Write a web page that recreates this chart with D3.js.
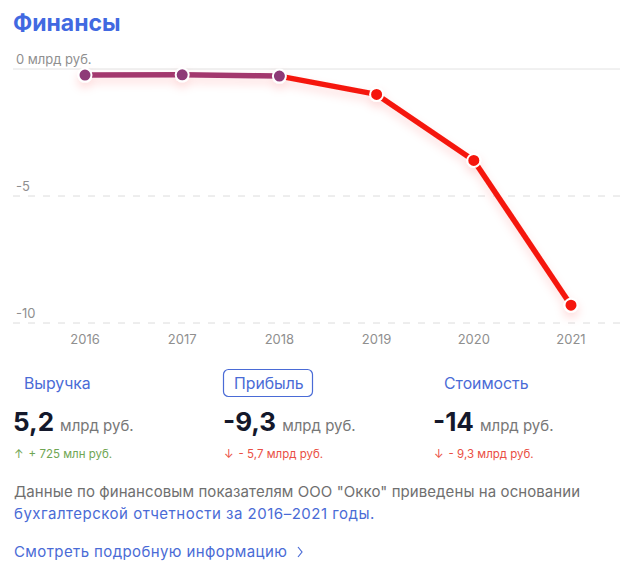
<!DOCTYPE html>
<html><head><meta charset="utf-8">
<script src="https://cdn.jsdelivr.net/npm/d3@7/dist/d3.min.js"></script>
<style>html,body{margin:0;padding:0;background:#fff}svg{display:block;font-family:Inter,"Noto Sans",sans-serif}</style>
</head><body><svg id="c" width="620" height="571"></svg>
<script>
const years=["2016","2017","2018","2019","2020","2021"];
const profit=[-0.24,-0.23,-0.28,-1.0,-3.6,-9.3];
const pointColors=["#8e3a78","#8e3a78","#8e3a78","#f5170b","#f5170b","#f5170b"];
const segmentColors=["#a3386e","#a3386e","#f5170b","#f5170b","#f5170b"];
const yTicks=[0,-5,-10];
const yTickLabels=["0 млрд руб.","-5","-10"];
const metrics=["Выручка","Прибыль","Стоимость"];
const metricValues=["5,2","-9,3","-14"];
const metricChanges=["+ 725 млн руб.","- 5,7 млрд руб.","- 9,3 млрд руб."];
const metricArrows=["↑","↓","↓"];
const metricChangeColors=["#6fa653","#ea4f45","#ea4f45"];
const metricX=[13,223,433];
const metricLabelX=[24,234,444];

const svg=d3.select("#c");
const blue="#4a6bd6";
const x=d3.scalePoint().domain(years).range([85,571]);
const y=d3.scaleLinear().domain([0,-10]).range([69,323]);

const defs=svg.append("defs");
const f=defs.append("filter").attr("id","glow").attr("x","-20%").attr("y","-20%").attr("width","140%").attr("height","140%");
f.append("feDropShadow").attr("dx",0).attr("dy",5).attr("stdDeviation",5).attr("flood-color","#f5170b").attr("flood-opacity",0.15);

svg.append("text").attr("x",13).attr("y",31).attr("font-size",23).attr("font-weight",700).attr("fill","#4169e1").text("Финансы");

svg.selectAll(".grid").data(yTicks).join("line")
  .attr("x1",13).attr("x2",620).attr("y1",d=>y(d)).attr("y2",d=>y(d))
  .attr("stroke",d=>d===0?"#e2e2e2":"#dcdcdc").attr("stroke-width",1)
  .attr("stroke-dasharray",d=>d===0?null:"7 8");
svg.selectAll(".yl").data(yTicks).join("text")
  .attr("x",16).attr("y",d=>y(d)-5).attr("font-size",13).attr("fill","#8f8f8f")
  .text((d,i)=>yTickLabels[i]);
svg.selectAll(".xl").data(years).join("text")
  .attr("x",d=>x(d)).attr("y",344).attr("text-anchor","middle").attr("font-size",13).attr("fill","#8f8f8f").text(d=>d);

const g=svg.append("g").attr("filter","url(#glow)");
d3.pairs(years.map((yr,i)=>[x(yr),y(profit[i])])).forEach((p,i)=>{
  g.append("path").attr("d",d3.line()(p)).attr("fill","none")
   .attr("stroke",segmentColors[i]).attr("stroke-width",5.5);
});
g.selectAll("circle").data(years).join("circle")
  .attr("cx",d=>x(d)).attr("cy",(d,i)=>y(profit[i])).attr("r",6.5)
  .attr("fill",(d,i)=>pointColors[i]).attr("stroke","#fff").attr("stroke-width",2);

svg.append("rect").attr("x",223.5).attr("y",369.5).attr("width",89).attr("height",27).attr("rx",5)
  .attr("fill","#fff").attr("stroke",blue).attr("stroke-width",1.2);
metrics.forEach((m,i)=>{
  svg.append("text").attr("x",metricLabelX[i]).attr("y",389).attr("font-size",15.8).attr("fill",blue).text(m);
  const t=svg.append("text").attr("x",metricX[i]).attr("y",431);
  t.append("tspan").attr("font-size",26).attr("font-weight",700).attr("fill","#14182b").text(metricValues[i]);
  t.append("tspan").attr("dx",6).attr("font-size",15).attr("fill","#777").text("млрд руб.");
  const c=svg.append("text").attr("x",metricX[i]+1).attr("y",458).attr("font-size",11.5).attr("fill",metricChangeColors[i]);
  c.append("tspan").text(metricArrows[i]);
  c.append("tspan").attr("dx",5).text(metricChanges[i]);
});

svg.append("text").attr("x",14).attr("y",497).attr("font-size",15).attr("letter-spacing",0.08).attr("fill","#6f6f6f")
  .text('Данные по финансовым показателям ООО "Окко" приведены на основании');
svg.append("text").attr("x",14).attr("y",519).attr("font-size",15).attr("letter-spacing",0.5).attr("fill",blue)
  .text("бухгалтерской отчетности за 2016–2021 годы.");
svg.append("text").attr("x",14).attr("y",557).attr("font-size",15).attr("letter-spacing",0.4).attr("fill",blue)
  .text("Смотреть подробную информацию");
svg.append("path").attr("d",d3.line()([[298,547],[302,552],[298,557]])).attr("fill","none").attr("stroke",blue).attr("stroke-width",1.2);
</script></body></html>
